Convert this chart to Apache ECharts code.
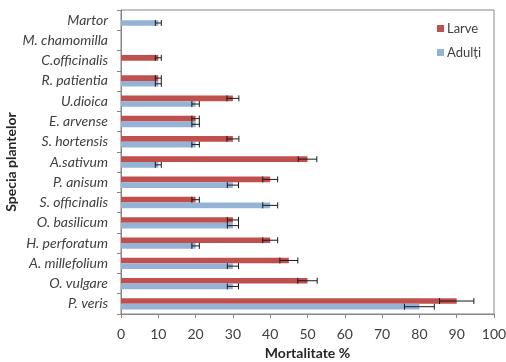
<!DOCTYPE html>
<html><head><meta charset="utf-8">
<script src="https://cdn.jsdelivr.net/npm/echarts@6/dist/echarts.min.js"></script>
<style>html,body{margin:0;padding:0;background:#fff}#c{width:506px;height:362px}</style>
</head><body><div id="c"></div>
<script>
// categories bottom to top
var categories = ['P. veris','O. vulgare','A. millefolium','H. perforatum','O. basilicum','S. officinalis','P. anisum','A.sativum','S. hortensis','E. arvense','U.dioica','R. patientia','C.officinalis','M. chamomilla','Martor'];
var larve  = [90, 50, 45, 40, 30, 20, 40, 50, 30, 20, 30, 10, 10, 0, 0];
var larveErr = [4.6, 2.6, 2.4, 2, 1.5, 1, 2, 2.5, 1.6, 1, 1.6, 0.8, 0.8, 0, 0];
var adulti = [80, 30, 30, 20, 30, 40, 30, 10, 20, 20, 20, 10, 0, 0, 10];
var adultiErr = [4, 1.5, 1.5, 1, 1.5, 2, 1.5, 0.8, 1, 1, 1, 0.8, 0, 0, 0.8];
var xTicks = [0,10,20,30,40,50,60,70,80,90,100];

var RED = '#C0504D', BLUE = '#95B3D7';
var BARFRAC = 0.28;
var FONT = 'Lato';

function errSeries(vals, errs, dir) {
  var data = vals.map(function(v, i){ return [i, v, errs[i]]; });
  return {
    type: 'custom',
    silent: true,
    z: 5,
    data: data,
    encode: {x: 1, y: 0},
    renderItem: function(params, api) {
      var cat = api.value(0), v = api.value(1), e = api.value(2);
      if (!v) return null;
      var band = api.size([0, 1])[1];
      var off = dir * band * BARFRAC / 2;
      var p1 = api.coord([v - e, cat]);
      var p2 = api.coord([v + e, cat]);
      var y = p1[1] + off;
      var h = 3;
      var st = {stroke: '#1a1a1a', lineWidth: 1};
      return {type: 'group', children: [
        {type: 'line', shape: {x1: p1[0], y1: y, x2: p2[0], y2: y}, style: st},
        {type: 'line', shape: {x1: p1[0], y1: y - h, x2: p1[0], y2: y + h}, style: st},
        {type: 'line', shape: {x1: p2[0], y1: y - h, x2: p2[0], y2: y + h}, style: st}
      ]};
    }
  };
}

var chart = echarts.init(document.getElementById('c'), null, {renderer: 'canvas'});
chart.setOption({
  animation: false,
  textStyle: {fontFamily: FONT},
  grid: {left: 121, right: 12, top: 10, bottom: 48, outerBoundsMode: 'none', containLabel: false,
    show: true, borderColor: '#868686', borderWidth: 1, backgroundColor: 'transparent'},
  legend: {
    orient: 'vertical', right: 20, top: 17,
    itemWidth: 7, itemHeight: 7, itemGap: 11,
    data: ['Larve', 'Adulți'],
    icon: 'rect',
    textStyle: {fontSize: 13, color: '#404040', fontFamily: FONT, padding: [0,0,0,-2]}
  },
  xAxis: {
    type: 'value', min: 0, max: 100, interval: 10,
    name: 'Mortalitate %', nameLocation: 'middle', nameGap: 32, nameMoveOverlap: false,
    nameTextStyle: {fontSize: 14, fontWeight: 'bold', color: '#262626', fontFamily: FONT},
    axisLine: {show: true, lineStyle: {color: '#868686'}},
    axisTick: {show: true, length: 4, lineStyle: {color: '#868686'}},
    axisLabel: {fontSize: 14, color: '#404040', margin: 13, fontFamily: FONT,
      formatter: function(v){ return xTicks.indexOf(v) >= 0 ? String(v) : ''; }},
    splitLine: {show: false}
  },
  yAxis: {
    type: 'category', data: categories,
    name: 'Specia plantelor', nameLocation: 'middle', nameGap: 103, nameMoveOverlap: false,
    nameTextStyle: {fontSize: 14, fontWeight: 'bold', color: '#262626', fontFamily: FONT},
    axisLine: {show: true, lineStyle: {color: '#868686'}},
    axisTick: {show: true, length: 4, lineStyle: {color: '#868686'}},
    axisLabel: {fontSize: 14, fontStyle: 'italic', color: '#404040', margin: 13, fontFamily: FONT}
  },
  series: [
    {name: 'Larve', type: 'bar', data: larve, barWidth: (BARFRAC*100)+'%', barGap: '0%', itemStyle: {color: RED}},
    {name: 'Adulți', type: 'bar', data: adulti, barWidth: (BARFRAC*100)+'%', barGap: '0%', itemStyle: {color: BLUE}},
    errSeries(larve, larveErr, -1),
    errSeries(adulti, adultiErr, 1)
  ]
});
</script></body></html>
